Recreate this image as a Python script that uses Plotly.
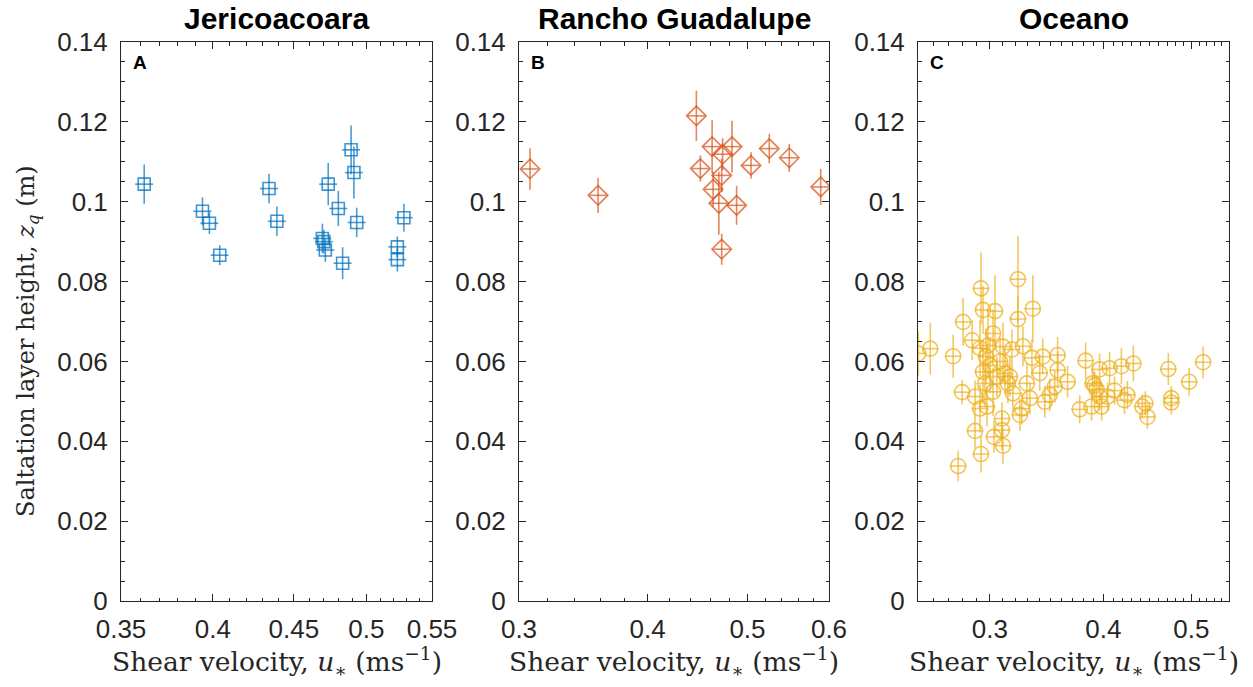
import plotly.graph_objects as go
import math

# ---------------- data ----------------
# Panel A: Jericoacoara
jeri_u = [0.362, 0.394, 0.398, 0.404, 0.434, 0.439, 0.469, 0.470, 0.471, 0.473,
          0.480, 0.483, 0.489, 0.491, 0.493, 0.523, 0.523, 0.528]
jeri_z = [0.1044, 0.0976, 0.0946, 0.0866, 0.1033, 0.0951, 0.0908, 0.0900, 0.0879, 0.1044,
          0.0983, 0.0846, 0.1130, 0.1073, 0.0948, 0.0855, 0.0887, 0.0960]
jeri_err = [0.0049, 0.0035, 0.0027, 0.0025, 0.0037, 0.0037, 0.0037, 0.0030, 0.0030, 0.0053,
            0.0044, 0.0040, 0.0061, 0.0065, 0.0037, 0.0030, 0.0026, 0.0035]

# Panel B: Rancho Guadalupe
rg_u = [0.3075, 0.358, 0.446, 0.450, 0.462, 0.463, 0.469, 0.472, 0.473, 0.472,
        0.483, 0.488, 0.504, 0.525, 0.549, 0.589]
rg_z = [0.1082, 0.1016, 0.1215, 0.1083, 0.1138, 0.1031, 0.0996, 0.1066, 0.1119, 0.0881,
        0.1138, 0.0991, 0.1091, 0.1133, 0.1110, 0.1037]
rg_err = [0.0052, 0.0044, 0.0063, 0.0033, 0.0066, 0.0044, 0.0079, 0.0042, 0.0040, 0.0039,
          0.0065, 0.0049, 0.0033, 0.0037, 0.0035, 0.0045]

# Panel C: Oceano
oc_u = [0.2502, 0.2579, 0.2733, 0.2803, 0.2796, 0.2868, 0.2889, 0.2889, 0.2933, 0.2948,
        0.2926, 0.2948, 0.2971, 0.2926, 0.2978, 0.2933, 0.2768, 0.3039, 0.3024, 0.3024,
        0.3054, 0.3101, 0.3093, 0.3093, 0.3031, 0.3101, 0.3156, 0.3180, 0.3221, 0.3221,
        0.3172, 0.3237, 0.3253, 0.3262, 0.3295, 0.3320, 0.3337, 0.3345, 0.3404, 0.3448,
        0.3430, 0.3536, 0.3562, 0.3562, 0.3492, 0.3653, 0.3767, 0.3824, 0.3882, 0.3892,
        0.3912, 0.3932, 0.3962, 0.3962, 0.3982, 0.4043, 0.4063, 0.4115, 0.4187, 0.4219,
        0.4251, 0.4316, 0.4415, 0.4449, 0.4472, 0.4716, 0.4752, 0.4752, 0.4972, 0.5151,
        0.2986, 0.3001, 0.2963, 0.3078, 0.3117, 0.3140]
oc_z = [0.0620, 0.0632, 0.0613, 0.0699, 0.0523, 0.0653, 0.0512, 0.0426, 0.0783, 0.0729,
        0.0633, 0.0574, 0.0612, 0.0482, 0.0487, 0.0368, 0.0338, 0.0726, 0.0670, 0.0524,
        0.0562, 0.0637, 0.0457, 0.0428, 0.0411, 0.0389, 0.0562, 0.0520, 0.0806, 0.0706,
        0.0630, 0.0466, 0.0482, 0.0638, 0.0545, 0.0508, 0.0609, 0.0732, 0.0571, 0.0499,
        0.0612, 0.0537, 0.0616, 0.0578, 0.0516, 0.0549, 0.0480, 0.0602, 0.0487, 0.0545,
        0.0540, 0.0530, 0.0512, 0.0580, 0.0487, 0.0512, 0.0583, 0.0527, 0.0588, 0.0503,
        0.0516, 0.0595, 0.0487, 0.0495, 0.0461, 0.0581, 0.0508, 0.0497, 0.0549, 0.0598,
        0.0640, 0.0590, 0.0545, 0.0600, 0.0570, 0.0545]
oc_err = [0.0055, 0.0065, 0.0054, 0.0060, 0.0030, 0.0050, 0.0040, 0.0045, 0.0090, 0.0060,
          0.0070, 0.0080, 0.0070, 0.0060, 0.0050, 0.0046, 0.0038, 0.0090, 0.0060, 0.0060,
          0.0050, 0.0060, 0.0040, 0.0050, 0.0040, 0.0045, 0.0050, 0.0045, 0.0108, 0.0060,
          0.0050, 0.0040, 0.0040, 0.0050, 0.0050, 0.0040, 0.0045, 0.0084, 0.0045, 0.0040,
          0.0045, 0.0040, 0.0045, 0.0045, 0.0040, 0.0040, 0.0035, 0.0045, 0.0035, 0.0040,
          0.0035, 0.0035, 0.0035, 0.0040, 0.0035, 0.0035, 0.0040, 0.0035, 0.0045, 0.0035,
          0.0035, 0.0045, 0.0030, 0.0030, 0.0030, 0.0040, 0.0030, 0.0030, 0.0035, 0.0040,
          0.0080, 0.0070, 0.0060, 0.0060, 0.0050, 0.0050]

titles = ["Jericoacoara", "Rancho Guadalupe", "Oceano"]
letters = ["A", "B", "C"]
xranges = [(0.35, 0.55), (0.30, 0.60), (0.25, 0.55)]
xticks = [[0.35, 0.40, 0.45, 0.50, 0.55], [0.3, 0.4, 0.5, 0.6], [0.3, 0.4, 0.5]]
xticktext = [["0.35", "0.4", "0.45", "0.5", "0.55"], ["0.3", "0.4", "0.5", "0.6"], ["0.3", "0.4", "0.5"]]
xminor = [
    [0.36, 0.37, 0.38, 0.39, 0.41, 0.42, 0.43, 0.44, 0.46, 0.47, 0.48, 0.49, 0.51, 0.52, 0.53, 0.54],
    [0.32, 0.34, 0.36, 0.38, 0.42, 0.44, 0.46, 0.48, 0.52, 0.54, 0.56, 0.58],
    [0.26, 0.27, 0.28, 0.29, 0.31, 0.32, 0.33, 0.34, 0.35, 0.36, 0.37, 0.38, 0.39,
     0.41, 0.42, 0.43, 0.44, 0.45, 0.46, 0.47, 0.48, 0.49, 0.51, 0.52, 0.53, 0.54],
]
yticks = [0, 0.02, 0.04, 0.06, 0.08, 0.10, 0.12, 0.14]
yticktext = ["0", "0.02", "0.04", "0.06", "0.08", "0.1", "0.12", "0.14"]

# ---------------- style ----------------
W, H = 1253, 687
def px(x):
    return x / W
def py(y):
    return (H - y) / H

panels_px = [(121, 432), (519, 829), (918, 1229)]
y_top, y_bot = 42, 601
colors = [(0, 114, 189), (217, 83, 25), (237, 177, 32)]
symbols = ["square-open", "diamond-open", "circle-open"]
sizes = [12, 15, 15]
axis_col = "#262626"
sans = "Liberation Sans, Arial, sans-serif"
tick_font = dict(family=sans, size=26, color=axis_col)
serif = "DejaVu Serif, serif"

fig = go.Figure()
series = [(jeri_u, jeri_z, jeri_err), (rg_u, rg_z, rg_err), (oc_u, oc_z, oc_err)]
xpct = [1.3, 1.9, 2.1]
for i, (u, z, e) in enumerate(series):
    r, g, b = colors[i]
    fig.add_trace(go.Scatter(
        x=u, y=z, mode="markers",
        xaxis=f"x{i+1}" if i else "x", yaxis=f"y{i+1}" if i else "y",
        marker=dict(symbol=symbols[i], size=sizes[i],
                    color=f"rgba({r},{g},{b},0.75)",
                    line=dict(width=1.6, color=f"rgba({r},{g},{b},0.75)")),
        error_y=dict(type="data", array=e, visible=True, width=0, thickness=1.6,
                     color=f"rgba({r},{g},{b},0.7)"),
        error_x=dict(type="percent", value=xpct[i], visible=True, width=0, thickness=1.6,
                     color=f"rgba({r},{g},{b},0.7)"),
        showlegend=False, hoverinfo="x+y",
    ))

layout = dict(width=W, height=H, margin=dict(l=0, r=0, t=0, b=0, autoexpand=False),
              paper_bgcolor="white", plot_bgcolor="white", showlegend=False)
annotations = []
ydom = [py(y_bot), py(y_top)]
for i in range(3):
    x0, x1 = panels_px[i]
    sfx = str(i + 1) if i else ""
    layout[f"xaxis{sfx}"] = dict(
        type="log", domain=[px(x0), px(x1)], automargin=False,
        range=[math.log10(xranges[i][0]), math.log10(xranges[i][1])],
        anchor=f"y{sfx}", tickmode="array", tickvals=xticks[i], ticktext=xticktext[i],
        ticks="inside", ticklen=7, tickwidth=1, tickcolor=axis_col,
        showline=True, linecolor=axis_col, linewidth=1, mirror="allticks",
        showgrid=False, zeroline=False, tickfont=tick_font, ticklabelstandoff=5,
        minor=dict(tickmode="array", tickvals=xminor[i], ticks="inside", ticklen=3.5,
                   tickcolor=axis_col, showgrid=False),
    )
    layout[f"yaxis{sfx}"] = dict(
        domain=ydom, range=[0, 0.14], anchor=f"x{sfx}", automargin=False,
        tickmode="array", tickvals=yticks, ticktext=yticktext,
        ticks="inside", ticklen=7, tickwidth=1, tickcolor=axis_col,
        showline=True, linecolor=axis_col, linewidth=1, mirror="allticks",
        showgrid=False, zeroline=False, tickfont=tick_font, ticklabelstandoff=7,
        minor=dict(dtick=0.005, tick0=0, ticks="inside", ticklen=3.5,
                   tickcolor=axis_col, showgrid=False),
    )
    xc = px((x0 + x1) / 2)
    annotations.append(dict(text=f"<b>{titles[i]}</b>", x=xc, y=py(19),
                            xref="paper", yref="paper", showarrow=False,
                            xanchor="center", yanchor="middle",
                            font=dict(family=sans, size=30, color="black")))
    annotations.append(dict(text=f"<b>{letters[i]}</b>", x=px(x0 + 10), y=py(63),
                            xref="paper", yref="paper", showarrow=False,
                            xanchor="left", yanchor="middle",
                            font=dict(family=sans, size=19, color="black")))
    annotations.append(dict(text="Shear velocity, <i>u</i><sub>∗</sub> (ms<sup>−1</sup>)",
                            x=xc, y=py(662), xref="paper", yref="paper", showarrow=False,
                            xanchor="center", yanchor="middle",
                            font=dict(family=serif, size=26.5, color=axis_col)))
annotations.append(dict(text="Saltation layer height, <i>z<sub>q</sub></i> (m)",
                        x=px(27), y=py(341), xref="paper", yref="paper", showarrow=False,
                        textangle=-90, xanchor="center", yanchor="middle",
                        font=dict(family=serif, size=24, color=axis_col)))
layout["annotations"] = annotations
fig.update_layout(**layout)
fig.write_html("out.html", config={"displayModeBar": False},
               post_script="document.body.style.margin='0px';")
